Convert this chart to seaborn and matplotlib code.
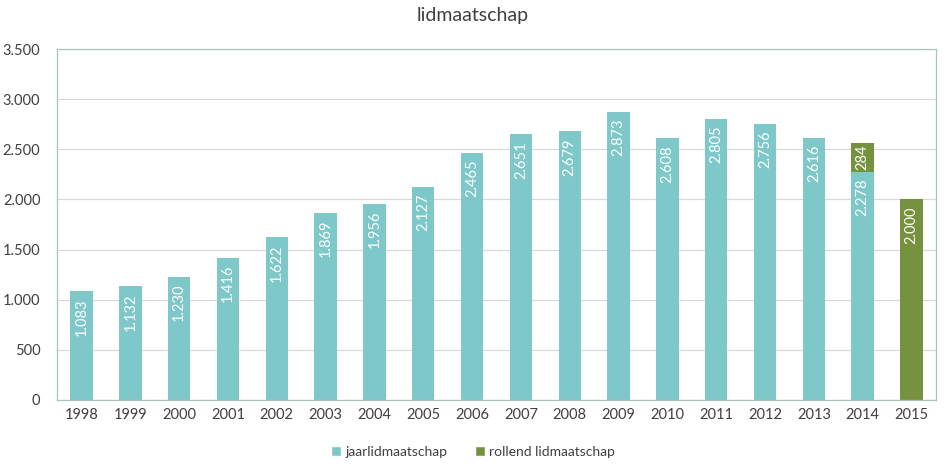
import matplotlib
matplotlib.use("Agg")
import matplotlib.pyplot as plt
import seaborn as sns
import pandas as pd
from matplotlib.patches import Patch

years = ["1998", "1999", "2000", "2001", "2002", "2003", "2004", "2005", "2006",
         "2007", "2008", "2009", "2010", "2011", "2012", "2013", "2014", "2015"]
jaarlid = [1083, 1132, 1230, 1416, 1622, 1869, 1956, 2127, 2465,
           2651, 2679, 2873, 2608, 2805, 2756, 2616, 2278, 0]
rollend = [0, 0, 0, 0, 0, 0, 0, 0, 0, 0, 0, 0, 0, 0, 0, 0, 284, 2000]

teal = "#7EC8C9"
green = "#77923F"

sns.set_theme(style="white")
plt.rcParams["font.family"] = ["Lato", "DejaVu Sans"]

df = pd.DataFrame({"jaar": years, "jaarlid": jaarlid, "rollend": rollend})
df["totaal"] = df["jaarlid"] + df["rollend"]

fig = plt.figure(figsize=(9.46, 4.67), dpi=100)
ax = fig.add_axes([0.0603, 0.1435, 0.9291, 0.7515])

sns.barplot(data=df, x="jaar", y="totaal", color=green, width=0.46,
            saturation=1, ax=ax, order=years, linewidth=0)
sns.barplot(data=df, x="jaar", y="jaarlid", color=teal, width=0.46,
            saturation=1, ax=ax, order=years, linewidth=0)

def fmt(v):
    return f"{v:,}".replace(",", ".")

for i, (j, r) in enumerate(zip(jaarlid, rollend)):
    if j > 0:
        ax.annotate(fmt(j), (i, j), xytext=(0, -5), textcoords="offset points",
                    rotation=90, ha="center", va="top", color="white", fontsize=10.5)
    if r > 0:
        if j > 0:
            ax.annotate(fmt(r), (i, j + r / 2), rotation=90, ha="center",
                        va="center", color="white", fontsize=10.5)
        else:
            ax.annotate(fmt(r), (i, r), xytext=(0, -5), textcoords="offset points",
                        rotation=90, ha="center", va="top", color="white", fontsize=10.5)

ax.set_ylim(0, 3500)
ax.set_xlim(-0.5, len(years) - 0.5)
ax.set_yticks(range(0, 3501, 500))
ax.set_yticklabels([fmt(v) for v in range(0, 3501, 500)])
ax.yaxis.grid(True, color="#D9D9D9", linewidth=0.9)
ax.set_axisbelow(True)
ax.set_xlabel("")
ax.set_ylabel("")
for s in ax.spines.values():
    s.set_color("#A9C4C0")
    s.set_linewidth(0.9)
ax.tick_params(axis="both", length=0, labelsize=10.5, colors="#404040", pad=6)
ax.tick_params(axis="y", pad=12)

fig.suptitle("lidmaatschap", y=0.985, fontsize=14, color="#404040")

handles = [Patch(facecolor=teal, label="jaarlidmaatschap"),
           Patch(facecolor=green, label="rollend lidmaatschap")]
fig.legend(handles=handles, loc="center", bbox_to_anchor=(0.5, 0.032), ncol=2,
           frameon=False, fontsize=10, handlelength=0.7, handleheight=0.7,
           handletextpad=0.3, columnspacing=2.0, labelcolor="#404040")

fig.savefig("out.png", dpi=100)
